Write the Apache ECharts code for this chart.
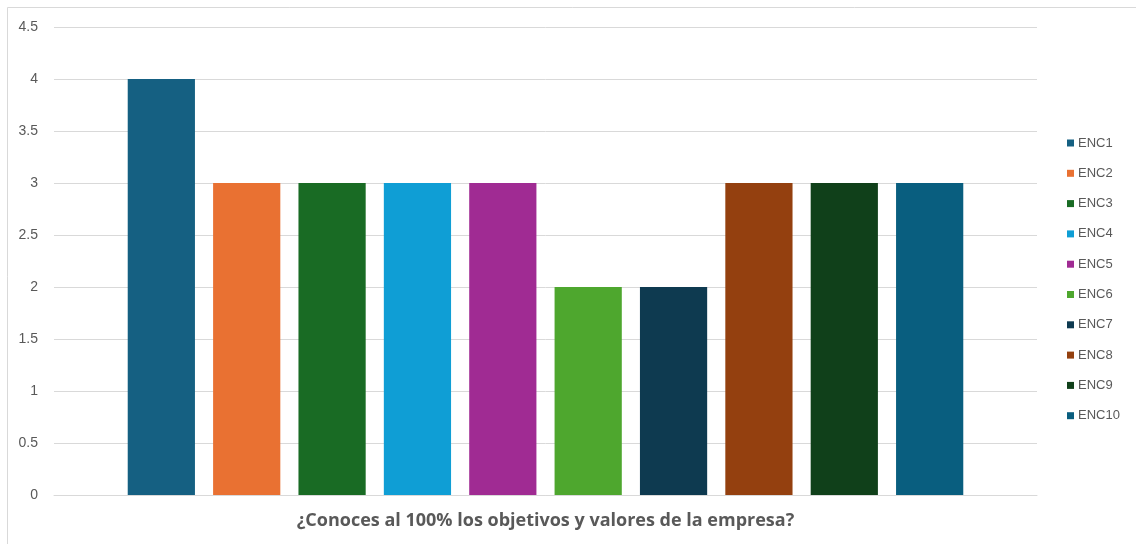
<!DOCTYPE html>
<html>
<head>
<meta charset="utf-8">
<script src="https://cdn.jsdelivr.net/npm/echarts@6/dist/echarts.min.js"></script>
<style>
  html, body { margin: 0; padding: 0; background: #ffffff; }
  #chart { width: 1136px; height: 544px; }
</style>
</head>
<body>
<div id="chart"></div>
<script>
// Survey answers: one bar per respondent
const seriesNames = ['ENC1', 'ENC2', 'ENC3', 'ENC4', 'ENC5', 'ENC6', 'ENC7', 'ENC8', 'ENC9', 'ENC10'];
const seriesValues = [4, 3, 3, 3, 3, 2, 2, 3, 3, 3];
const seriesColors = ['#156082', '#E97132', '#196B24', '#0F9ED5', '#A02B93', '#4EA72E', '#0E3A50', '#94400F', '#10401A', '#095E7F'];
const categories = ['¿Conoces al 100% los objetivos y valores de la empresa?'];
const yTicks = { min: 0, max: 4.5, interval: 0.5 };

const chart = echarts.init(document.getElementById('chart'), null, { renderer: 'canvas' });

const series = seriesNames.map((name, i) => ({
  name: name,
  type: 'bar',
  data: [seriesValues[i]],
  itemStyle: { color: seriesColors[i] },
  barGap: '27%',
  barCategoryGap: '15%'
}));

chart.setOption({
  animation: false,
  backgroundColor: '#ffffff',
  textStyle: { fontFamily: 'Liberation Sans, Arial, sans-serif' },
  graphic: [{
    type: 'rect',
    shape: { x: 7.5, y: 7.5, width: 1200, height: 600 },
    style: { fill: 'none', stroke: '#d9d9d9', lineWidth: 1 },
    silent: true,
    z: -10
  }],
  grid: { left: 54, right: 99, top: 27, bottom: 49, containLabel: false },
  legend: {
    orient: 'vertical',
    left: 1062,
    top: 131,
    itemWidth: 7,
    itemHeight: 7,
    itemGap: 16.3,
    icon: 'rect',
    data: seriesNames,
    textStyle: { color: '#595959', fontSize: 13, lineHeight: 14, padding: [0, 0, 0, -1] }
  },
  xAxis: {
    type: 'category',
    data: categories,
    axisTick: { show: false },
    axisLine: { show: true, lineStyle: { color: '#d9d9d9', width: 1 } },
    axisLabel: {
      show: true,
      margin: 17,
      color: '#595959',
      fontSize: 18,
      fontWeight: 'bold',
      fontFamily: 'Open Sans, sans-serif'
    }
  },
  yAxis: {
    type: 'value',
    min: yTicks.min,
    max: yTicks.max,
    interval: yTicks.interval,
    axisLine: { show: false },
    axisTick: { show: false },
    axisLabel: { color: '#595959', fontSize: 14, margin: 16 },
    splitLine: { lineStyle: { color: '#d9d9d9', width: 1 } }
  },
  series: series
});
</script>
</body>
</html>
